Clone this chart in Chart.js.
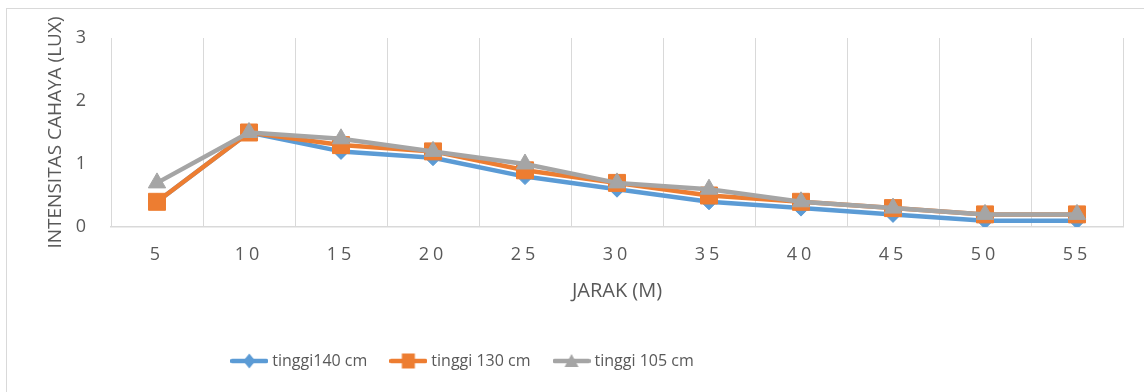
<!DOCTYPE html>
<html>
<head>
<meta charset="utf-8">
<script src="https://cdn.jsdelivr.net/npm/chart.js@4.4.1/dist/chart.umd.min.js"></script>
<style>
html,body{margin:0;padding:0;background:#fff;}
#wrap{width:1144px;height:392px;position:relative;}
canvas{display:block;}
</style>
</head>
<body>
<div id="wrap"><canvas id="c" width="1144" height="392"></canvas></div>
<script>
// ---- data ----
const categories = ['5','10','15','20','25','30','35','40','45','50','55'];
const tinggi140 = [0.4,1.5,1.2,1.1,0.8,0.6,0.4,0.3,0.2,0.1,0.1];
const tinggi130 = [0.4,1.5,1.3,1.2,0.9,0.7,0.5,0.4,0.3,0.2,0.2];
const tinggi105 = [0.7,1.5,1.4,1.2,1.0,0.7,0.6,0.4,0.3,0.2,0.2];
const seriesNames = ['tinggi140 cm','tinggi 130 cm','tinggi 105 cm'];
const yTickValues = [0,1,2,3];
const xTitle = 'JARAK (M)';
const yTitle = 'INTENSITAS CAHAYA (LUX)';

// ---- styles ----
const FONT = "'Open Sans', sans-serif";
const TEXT = '#595959';
const GRID = '#d9d9d9';
const colors = ['#5B9BD5','#ED7D31','#A5A5A5'];
const styles = ['rectRot','rect','triangle'];
const radii = [8,12,10];

function legendIcon(color, kind){
  const c = document.createElement('canvas');
  c.width = 38; c.height = 18;
  const g = c.getContext('2d');
  g.strokeStyle = color; g.lineWidth = 4.5; g.lineCap = 'round';
  g.beginPath(); g.moveTo(2,9); g.lineTo(36,9); g.stroke();
  g.fillStyle = color;
  g.beginPath();
  if (kind === 'rectRot') { g.moveTo(19,1.5); g.lineTo(25,9); g.lineTo(19,16.5); g.lineTo(13,9); }
  else if (kind === 'rect') { g.rect(12.5,1.5,13,15); }
  else { g.moveTo(19,2); g.lineTo(26,15); g.lineTo(12,15); }
  g.closePath(); g.fill();
  return c;
}
const icons = colors.map((c,i)=>legendIcon(c, styles[i]));

const seriesData = [tinggi140, tinggi130, tinggi105];
const datasets = seriesData.map((d,i)=>({
  label: seriesNames[i],
  data: d,
  borderColor: colors[i],
  backgroundColor: colors[i],
  borderWidth: 4.5,
  tension: 0,
  pointStyle: styles[i],
  pointRadius: radii[i],
  pointHoverRadius: radii[i],
  pointBorderWidth: 1,
  pointBorderColor: colors[i],
  pointBackgroundColor: colors[i],
  borderJoinStyle: 'round',
  order: 3 - i
}));

const framePlugin = {
  id: 'frame',
  beforeDraw(chart){
    const ctx = chart.ctx;
    ctx.save();
    ctx.fillStyle = '#fff';
    ctx.fillRect(0,0,chart.width,chart.height);
    ctx.strokeStyle = GRID; ctx.lineWidth = 1;
    ctx.strokeRect(6.5, 8.5, chart.width + 20, chart.height + 20);
    ctx.restore();
  },
  afterUpdate(chart){
    const s = chart.scales.x;
    if (s && !s.__patched){
      const orig = s.drawLabels;
      s.drawLabels = function(area){
        const ctx = this.ctx;
        ctx.save();
        ctx.letterSpacing = '4px';
        orig.call(this, area);
        ctx.restore();
      };
      s.__patched = true;
    }
  },
  afterLayout(chart){
    if (chart.legend){
      chart.legend.left = 0;
      chart.legend.right = 928;
    }
  }
};

new Chart(document.getElementById('c'), {
  type: 'line',
  data: { labels: categories, datasets },
  options: {
    responsive: false,
    animation: false,
    devicePixelRatio: 1,
    layout: { padding: { left: 40, right: 21, top: 38, bottom: 13 } },
    plugins: {
      tooltip: { enabled: false },
      legend: {
        position: 'bottom',
        align: 'center',
        labels: {
          usePointStyle: true,
          pointStyleWidth: 30,
          padding: 26,
          color: TEXT,
          font: { family: FONT, size: 16 },
          generateLabels(chart){
            return chart.data.datasets.map((ds,i)=>({
              text: ds.label,
              fillStyle: ds.borderColor,
              strokeStyle: ds.borderColor,
              lineWidth: 0,
              pointStyle: icons[i],
              datasetIndex: i,
              hidden: false,
              fontColor: TEXT
            }));
          }
        }
      }
    },
    scales: {
      x: {
        type: 'category',
        offset: true,
        grid: { display: true, offset: true, color: GRID, lineWidth: 1, drawTicks: false },
        border: { display: true, color: GRID, width: 1.5 },
        ticks: { color: TEXT, font: { family: FONT, size: 18 }, padding: 17, maxRotation: 0 },
        title: { display: true, text: xTitle, color: TEXT, font: { family: FONT, size: 20 }, padding: { top: 4, bottom: 24 } },
        afterFit(scale){ scale.height = 100; }
      },
      y: {
        min: 0, max: 3,
        afterBuildTicks(scale){ scale.ticks = yTickValues.map(v=>({value:v})); },
        grid: { display: false, drawTicks: false },
        border: { display: false },
        ticks: { color: TEXT, font: { family: FONT, size: 18 }, padding: 25 },
        title: { display: true, text: yTitle, color: TEXT, font: { family: FONT, size: 19 }, padding: { top: 4, bottom: 4 } },
        afterFit(scale){ scale.width = 71; }
      }
    }
  },
  plugins: [framePlugin]
});
</script>
</body>
</html>
